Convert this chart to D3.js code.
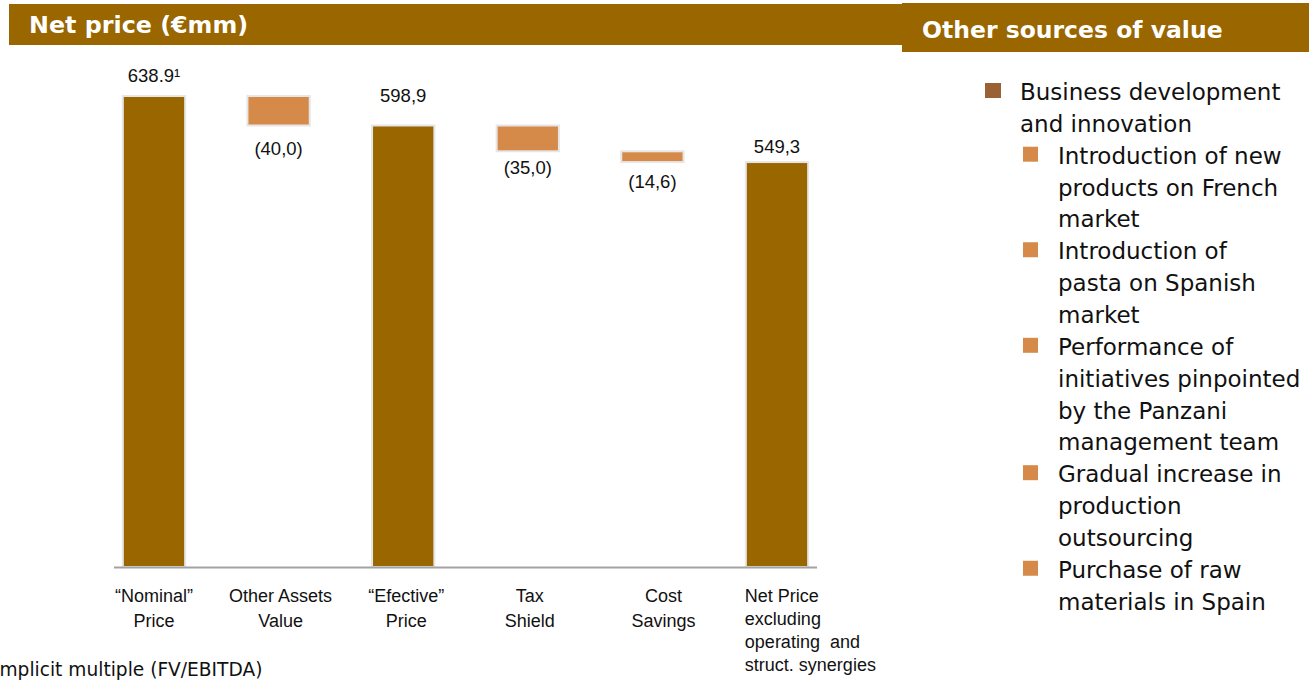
<!DOCTYPE html>
<html>
<head>
<meta charset="utf-8">
<script src="https://cdn.jsdelivr.net/npm/d3@7"></script>
<style>
  html, body { margin: 0; padding: 0; background: #fff; overflow: hidden; }
  svg { display: block; }
</style>
</head>
<body>
<svg id="chart" width="1309" height="680"></svg>
<script>
// Waterfall steps from nominal to net price (€mm)
const categories = ["Nominal", "OtherAssets", "Efective", "TaxShield", "CostSavings", "NetPrice"];
const categoryLabels = [
  ["\u201cNominal\u201d", "Price"],
  ["Other Assets", "Value"],
  ["\u201cEfective\u201d", "Price"],
  ["Tax", "Shield"],
  ["Cost", "Savings"],
  ["Net Price", "excluding", "operating  and", "struct. synergies"]
];
const stepValues = [638.9, -40.0, 598.9, -35.0, -14.6, 549.3];
const isTotal = [true, false, true, false, false, true];
const valueLabels = ["638.9\u00b9", "(40,0)", "598,9", "(35,0)", "(14,6)", "549,3"];

// Right-hand panel
const bulletItems = [
  { level: 0, lines: ["Business development", "and innovation"] },
  { level: 1, lines: ["Introduction of new", "products on French", "market"] },
  { level: 1, lines: ["Introduction of", "pasta on Spanish", "market"] },
  { level: 1, lines: ["Performance of", "initiatives pinpointed", "by the Panzani", "management team"] },
  { level: 1, lines: ["Gradual increase in", "production", "outsourcing"] },
  { level: 1, lines: ["Purchase of raw", "materials in Spain"] }
];
const footnote = "Implicit multiple (FV/EBITDA)";

// Layout and style
const BROWN = "#996600";
const ORANGE = "#d68a49";
const BULLET_MAIN = "#9a6234";
const labelFont = "'Liberation Sans', Arial, sans-serif";
const textFont = "'DejaVu Sans', Verdana, sans-serif";
const valueLabelGap = [14, 30, 23, 23, 26, 9];      // distance from bar edge to label baseline
const categoryDx = [0, 2, 3, 2, 11, 0];

const svg = d3.select("#chart");

// Section headers
svg.append("rect").attr("x", 9).attr("y", 4).attr("width", 893).attr("height", 41).attr("fill", BROWN);
svg.append("rect").attr("x", 902).attr("y", 3).attr("width", 407).attr("height", 49).attr("fill", BROWN);
svg.append("text").attr("x", 29).attr("y", 33)
  .attr("font-family", textFont).attr("font-weight", "bold").attr("font-size", 23.8)
  .attr("fill", "#fff").text("Net price (\u20acmm)");
svg.append("text").attr("x", 922).attr("y", 38)
  .attr("font-family", textFont).attr("font-weight", "bold").attr("font-size", 23.5)
  .attr("fill", "#fff").text("Other sources of value");

// Scales
const x = d3.scaleBand().domain(categories).range([91.7, 839.3])
  .paddingInner(0.5).paddingOuter(0.25);
const y = d3.scaleLinear().domain([0, 638.9]).range([567, 96]);

// Running totals for the waterfall
let running = 0;
const steps = stepValues.map((v, i) => {
  let lo, hi;
  if (isTotal[i]) { lo = 0; hi = v; running = v; }
  else { hi = running; lo = running + v; running = lo; }
  return { key: categories[i], value: v, lo, hi, total: isTotal[i], label: valueLabels[i], i };
});

const g = svg.append("g");

g.selectAll("rect.bar").data(steps).join("rect")
  .attr("class", "bar")
  .attr("x", d => x(d.key))
  .attr("y", d => y(d.hi))
  .attr("width", x.bandwidth())
  .attr("height", d => y(d.lo) - y(d.hi))
  .attr("fill", d => d.total ? BROWN : ORANGE)
  .attr("stroke", "#e6e6e6")
  .attr("stroke-width", 2);

// Baseline
const axis = d3.axisBottom(x).tickSize(0).tickFormat("");
const axisG = svg.append("g").attr("transform", `translate(0,${y(0)})`).call(axis);
axisG.select(".domain").remove();
svg.append("line")
  .attr("x1", 114).attr("x2", 817).attr("y1", y(0) + 0.5).attr("y2", y(0) + 0.5)
  .attr("stroke", "#a3a3a3").attr("stroke-width", 2);

// Value labels
g.selectAll("text.val").data(steps).join("text")
  .attr("class", "val")
  .attr("x", d => x(d.key) + x.bandwidth() / 2)
  .attr("y", d => d.total ? y(d.hi) - valueLabelGap[d.i] : y(d.lo) + valueLabelGap[d.i])
  .attr("text-anchor", "middle")
  .attr("font-family", labelFont).attr("font-size", 18.5).attr("fill", "#111")
  .text(d => d.label);

// Category labels
steps.forEach((d, i) => {
  const last = i === steps.length - 1;
  const t = svg.append("text")
    .attr("font-family", labelFont).attr("font-size", 18).attr("fill", "#111")
    .attr("text-anchor", last ? "start" : "middle");
  const cx = last ? x(d.key) - 1 : x(d.key) + x.bandwidth() / 2 + categoryDx[i];
  categoryLabels[i].forEach((line, k) => {
    t.append("tspan").attr("x", cx)
      .attr("y", 602 + k * (last ? 23 : 25))
      .attr("xml:space", "preserve")
      .style("white-space", "pre")
      .text(line);
  });
});

// Footnote, starting just past the left edge
svg.append("text").attr("x", -6).attr("y", 676)
  .attr("font-family", textFont).attr("font-size", 18.6).attr("fill", "#111")
  .text(footnote);

// Bullet list
const lineH = 31.85;
let lineIdx = 0;
bulletItems.forEach(item => {
  const base = 100 + lineIdx * lineH;
  const sq = item.level === 0 ? { x: 985, s: 16, c: BULLET_MAIN } : { x: 1023, s: 15, c: ORANGE };
  svg.append("rect").attr("x", sq.x).attr("y", base - 17).attr("width", sq.s).attr("height", 15).attr("fill", sq.c);
  const tx = item.level === 0 ? 1020 : 1058;
  item.lines.forEach((line, k) => {
    svg.append("text").attr("x", tx).attr("y", base + k * lineH)
      .attr("font-family", textFont).attr("font-size", 23).attr("fill", "#111")
      .text(line);
  });
  lineIdx += item.lines.length;
});
</script>
</body>
</html>
